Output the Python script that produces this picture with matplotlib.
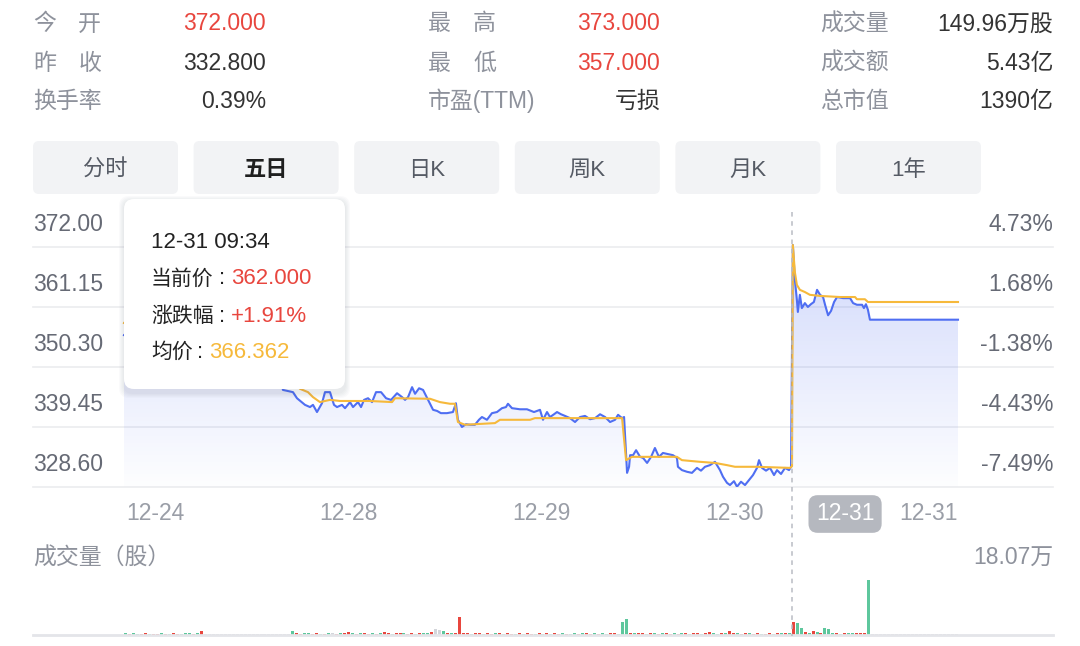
import numpy as np
import matplotlib.pyplot as plt
import matplotlib.transforms as mtransforms
from matplotlib.patches import FancyBboxPatch
from matplotlib.colors import LinearSegmentedColormap

plt.rcParams['font.family'] = ['Liberation Sans', 'Noto Sans CJK SC', 'DejaVu Sans']

# quote header
quote_labels = [["今开", "昨收", "换手率"],
                ["最高", "最低", "市盈(TTM)"],
                ["成交量", "成交额", "总市值"]]
quote_values = [["372.000", "332.800", "0.39%"],
                ["373.000", "357.000", "亏损"],
                ["149.96万股", "5.43亿", "1390亿"]]
quote_red = [[True, False, False],
             [True, True, False],
             [False, False, False]]

tabs = ["分时", "五日", "日K", "周K", "月K", "1年"]
active_tab = "五日"

# five-day intraday price, time in trading days (0 = 12-24 open)
t_price = [0.000, 0.100, 0.200, 0.300, 0.456, 0.900, 0.930, 0.953,
           1.013, 1.037, 1.085, 1.115, 1.133, 1.157, 1.187, 1.205, 1.235, 1.259,
           1.277, 1.307, 1.325, 1.355, 1.373, 1.403, 1.421, 1.439, 1.463, 1.487,
           1.511, 1.541, 1.571, 1.601, 1.637, 1.667, 1.685, 1.703, 1.727, 1.745,
           1.769, 1.793, 1.823, 1.853, 1.877, 1.900, 1.936, 1.972, 1.990,
           2.002, 2.026, 2.050, 2.074, 2.104, 2.128, 2.146, 2.176, 2.206, 2.236,
           2.266, 2.290, 2.302, 2.326, 2.374, 2.416, 2.458, 2.494, 2.512, 2.536,
           2.554, 2.578, 2.596, 2.620, 2.644, 2.674, 2.704, 2.734, 2.764, 2.794,
           2.824, 2.854, 2.884, 2.914, 2.944, 2.962, 2.986, 2.998,
           3.016, 3.028, 3.034, 3.052, 3.070, 3.094, 3.112, 3.136, 3.160, 3.183,
           3.207, 3.231, 3.261, 3.291, 3.315, 3.321, 3.345, 3.375, 3.405, 3.435,
           3.459, 3.483, 3.513, 3.543, 3.573, 3.591, 3.615, 3.633, 3.657, 3.675,
           3.699, 3.723, 3.747, 3.771, 3.795, 3.807, 3.825, 3.849, 3.873, 3.897,
           3.915, 3.939, 3.963, 3.987, 3.999,
           4.010, 4.022, 4.034, 4.040, 4.052, 4.064, 4.082, 4.100, 4.118, 4.136,
           4.155, 4.173, 4.191, 4.203, 4.221, 4.239, 4.257, 4.275, 4.311, 4.353,
           4.371, 4.394, 4.425, 4.436, 4.448, 4.460, 4.472, 5.000]
price = [356.0, 354.6, 353.2, 352.5, 351.8, 351.8, 349.0, 346.1,
         345.7, 344.6, 343.4, 343.0, 343.4, 342.1, 343.7, 345.7, 345.7, 343.4,
         343.0, 343.4, 342.8, 343.9, 343.0, 343.9, 343.0, 344.3, 344.6, 343.9,
         345.7, 345.7, 344.6, 344.3, 345.5, 344.8, 344.3, 344.8, 346.6, 345.4,
         346.4, 346.1, 344.3, 342.5, 342.3, 341.9, 341.9, 342.1, 343.7,
         340.7, 339.4, 339.9, 339.8, 339.8, 340.7, 341.2, 340.7, 341.9, 342.1,
         342.8, 343.0, 343.6, 342.8, 342.6, 342.6, 342.1, 342.5, 340.7, 342.1,
         341.2, 341.7, 342.1, 341.7, 341.4, 341.0, 340.3, 341.2, 341.4, 340.8,
         341.0, 341.7, 341.2, 340.3, 340.7, 341.6, 341.0, 341.2,
         331.1, 332.2, 334.3, 334.3, 335.2, 334.0, 333.8, 332.9, 334.0, 335.6,
         334.0, 334.7, 334.5, 334.3, 333.8, 332.2, 331.6, 331.3, 331.1, 332.0,
         331.5, 332.2, 332.5, 333.1, 331.6, 330.4, 329.3, 328.9, 329.6, 328.6,
         329.5, 328.9, 329.8, 330.7, 332.0, 333.4, 332.0, 331.5, 332.0, 330.7,
         331.6, 330.9, 332.0, 331.6, 332.2,
         372.3, 366.0, 362.4, 360.2, 363.3, 360.9, 361.8, 361.1, 361.6, 362.0,
         364.2, 363.3, 362.9, 361.5, 359.6, 360.4, 362.0, 362.9, 362.7, 362.7,
         361.8, 361.5, 361.5, 360.9, 361.6, 360.6, 358.8, 358.8]

t_avg = [0.000, 0.100, 0.200, 0.300, 0.456, 0.900, 0.950, 1.055,
         1.103, 1.133, 1.175, 1.235, 1.295, 1.475, 1.607, 1.625, 1.835, 1.894,
         1.954, 1.984, 2.002, 2.044, 2.224, 2.254, 2.434, 2.464, 2.986,
         3.010, 3.046, 3.183, 3.315, 3.345, 3.453, 3.543, 3.615, 3.663, 3.795,
         3.993, 4.005, 4.010, 4.022, 4.034, 4.052, 4.082, 4.112, 4.173, 4.293,
         4.383, 4.394, 4.442, 4.460, 5.000]
avg_price = [358.2, 357.0, 355.8, 355.0, 354.6, 354.6, 350.0, 346.3,
             345.7, 344.8, 343.9, 344.3, 344.1, 344.1, 343.9, 344.6, 344.5, 343.9,
             343.6, 343.6, 340.3, 339.8, 340.1, 340.7, 340.7, 341.0, 341.0,
             333.4, 334.0, 334.0, 334.0, 333.4, 333.1, 332.9, 332.5, 332.2, 332.2,
             332.0, 332.3, 372.3, 367.4, 365.1, 364.2, 363.8, 363.3, 363.1, 362.9,
             362.9, 362.5, 362.5, 362.0, 362.0]

price_ticks = [372.00, 361.15, 350.30, 339.45, 328.60]
pct_ticks = ["4.73%", "1.68%", "-1.38%", "-4.43%", "-7.49%"]
date_labels = ["12-24", "12-28", "12-29", "12-30", "12-31"]
date_pos = [0.186, 1.343, 2.500, 3.663, 4.826]

cursor_t = 4.005
cursor_date = "12-31"
cursor_date_pos = 4.323
tip_time = "12-31 09:34"
tip_price = "362.000"
tip_change = "+1.91%"
tip_avg = "366.362"

# volume (万股), 42 buckets per day; r = up, g = down, n = flat
vol_1224 = [0.6, 0.4, 0.5, 0.3, 0.4, 0.5, 0.3, 0.4, 0.3, 0.5,
            0.4, 0.3, 0.6, 0.4, 0.3, 0.5, 0.6, 0.4, 0.5, 1.3,
            0.25, 0.25, 0.25, 0.25, 0.25, 0.25, 0.25, 0.25, 0.25, 0.25,
            0.25, 0.25, 0.25, 0.25, 0.25, 0.25, 0.25, 0.25, 0.25, 0.25,
            0.25, 0.25]
col_1224 = "grggrrgrrg" "rgrrgggrgr" "nnnnnnnnnn" "nnnnnnnnnn" "nn"
vol_1228 = [1.3, 0.5, 0.4, 0.5, 0.6, 0.4, 0.5, 0.3, 0.4, 0.5,
            0.7, 0.4, 0.5, 0.6, 0.9, 0.5, 0.4, 0.5, 0.6, 0.4,
            0.5, 0.4, 0.6, 0.9, 0.5, 0.4, 0.5, 0.6, 0.5, 0.4,
            0.5, 0.4, 0.6, 0.5, 0.7, 0.9, 2.1, 1.6, 1.2, 0.6,
            0.8, 0.5]
col_1228 = "grrggrrgrg" "nrgrrgrgrr" "grgrrgrrgr" "rgrggrnngr" "gr"
vol_1229 = [5.9, 0.6, 0.5, 0.4, 0.6, 0.5, 0.4, 0.5, 0.4, 0.6,
            0.5, 0.4, 0.5, 0.4, 0.3, 0.5, 0.4, 0.5, 0.4, 0.3,
            0.5, 0.4, 0.5, 0.4, 0.6, 0.4, 0.5, 0.4, 0.3, 0.5,
            0.4, 0.6, 0.5, 0.4, 0.5, 0.4, 0.5, 0.4, 0.6, 0.5,
            0.4, 4.3]
col_1229 = "rrrgrrgrrg" "rgrrgrgrrg" "rgrgrrgrgg" "rgrrgrggrr" "gg"
vol_1230 = [5.3, 0.7, 0.5, 0.6, 0.5, 0.4, 0.6, 0.5, 0.4, 0.5,
            0.6, 0.4, 0.5, 0.4, 0.6, 0.5, 0.4, 0.5, 0.6, 0.4,
            0.5, 1.1, 0.5, 0.4, 0.6, 0.5, 1.3, 0.6, 0.5, 0.4,
            0.5, 0.6, 0.4, 0.5, 0.4, 0.3, 0.5, 0.4, 0.6, 0.5,
            0.8, 0.6]
col_1230 = "grgrrgrgrg" "rrgrgrgrrg" "rrggrgrrgr" "rgrrgrrgrg" "rg"
vol_1231 = [4.3, 4.0, 2.4, 1.0, 0.7, 1.2, 0.9, 0.8, 2.3, 2.0,
            0.6, 0.6, 0.4, 0.5, 0.5, 0.7, 0.5, 0.6, 0.5, 18.07,
            0.25, 0.25, 0.25, 0.25, 0.25, 0.25, 0.25, 0.25, 0.25, 0.25,
            0.25, 0.25, 0.25, 0.25, 0.25, 0.25, 0.25, 0.25, 0.25, 0.25,
            0.25, 0.25]
col_1231 = "rggrgrgrgg" "grgrggrrrg" "nnnnnnnnnn" "nnnnnnnnnn" "nn"
vol_max = 18.07
vol_max_label = "18.07万"

BLUE = '#4f6ef2'
GOLD = '#f6b93b'
RED = '#e8463e'
GREEN = '#5ec79d'
LABEL = '#8e929c'
DARK = '#2b2b2b'
AXTXT = '#666a75'

W, H = 1080, 646
fig = plt.figure(figsize=(10.8, 6.46), dpi=100)


def px_axes(x0, y0, x1, y1):
    a = fig.add_axes([x0 / W, 1 - y1 / H, (x1 - x0) / W, (y1 - y0) / H])
    a.set_axis_off()
    return a


# day 0 open sits at x=124px, 166.8 px per trading day
day_px = 166.8
xlim = (-(124 - 33) / day_px, 5 + (1053 - 958) / day_px)
unit_px = 60 / 10.85

# price panel
ax = px_axes(33, 205, 1053, 486.7)
fill = ax.fill_between(t_price, price, price_ticks[-1], color='none', lw=0)
grad = np.linspace(0, 1, 256).reshape(-1, 1)
fade = LinearSegmentedColormap.from_list('fade', [(0.31, 0.43, 0.95, 0.01),
                                                  (0.31, 0.43, 0.95, 0.26)])
im = ax.imshow(grad, extent=[t_price[0], t_price[-1], price_ticks[-1], max(price)],
               aspect='auto', origin='lower', cmap=fade, zorder=1)
im.set_clip_path(fill.get_paths()[0], transform=ax.transData)
for p in price_ticks:
    ax.axhline(p, color='#ebecef', lw=1.2, zorder=0, clip_on=False)
ax.plot(t_price, price, color=BLUE, lw=1.5, zorder=3)
ax.plot(t_avg, avg_price, color=GOLD, lw=1.5, zorder=4)
ax.set_xlim(*xlim)
ax.set_ylim(price_ticks[-1], price_ticks[0] + (246.7 - 205) / unit_px)

lab_tr = mtransforms.offset_copy(
    mtransforms.blended_transform_factory(ax.transAxes, ax.transData),
    fig=fig, y=22, units='dots')
for p, pc in zip(price_ticks, pct_ticks):
    ax.text(0, p, f"{p:.2f}", transform=lab_tr, ha='left', va='center',
            fontsize=16.5, color=AXTXT)
    ax.text(1, p, pc, transform=lab_tr, ha='right', va='center',
            fontsize=16.5, color=AXTXT)

# volume panel
vx = px_axes(33, 580, 1053, 635)
vols = [vol_1224, vol_1228, vol_1229, vol_1230, vol_1231]
cols = [col_1224, col_1228, col_1229, col_1230, col_1231]
cmap_v = {'r': RED, 'g': GREEN, 'n': '#d3d5da'}
for d, (v, c) in enumerate(zip(vols, cols)):
    assert len(v) == len(c) == 42
    xs = d + (np.arange(len(v)) + 0.5) / len(v)
    vx.bar(xs, v, width=0.75 / len(v), color=[cmap_v[k] for k in c], lw=0)
vx.axhline(0, color='#e4e5e9', lw=2, clip_on=False)
vx.set_xlim(*xlim)
vx.set_ylim(0, vol_max)

# overlay in pixel coordinates
ov = fig.add_axes([0, 0, 1, 1])
ov.set_xlim(0, W)
ov.set_ylim(H, 0)
ov.set_axis_off()


def put(x, y, s, color=DARK, ha='left', size=16.5, weight='normal', tr=None):
    # matplotlib centres on the full line box; nudge down to sit like the UI text
    ov.text(x, y + 2, s, color=color, ha=ha, va='center', fontsize=size,
            fontweight=weight, transform=tr if tr is not None else ov.transData)


col_x = [33, 428, 820]
col_right = [266, 660, 1053]
row_y = [22, 61, 99]
for c in range(3):
    for r in range(3):
        lab = quote_labels[c][r]
        if len(lab) == 2:
            put(col_x[c], row_y[r], lab[0], LABEL)
            put(col_x[c] + 68, row_y[r], lab[1], LABEL, ha='right')
        else:
            put(col_x[c], row_y[r], lab, LABEL)
        put(col_right[c], row_y[r], quote_values[c][r],
            RED if quote_red[c][r] else '#333333', ha='right')

for i, name in enumerate(tabs):
    x0 = 33 + i * 160.6
    ov.add_patch(FancyBboxPatch((x0 + 6, 147), 133, 41,
                                boxstyle='round,pad=6', fc='#f2f3f5', ec='none'))
    on = name == active_tab
    put(x0 + 72.5, 168, name, '#1f1f1f' if on else '#555a64', ha='center',
        size=16, weight='bold' if on else 'normal')

# x date labels
xt = mtransforms.blended_transform_factory(ax.transData, ov.transData)
for d, s in zip(date_pos, date_labels):
    put(d, 512, s, '#9a9ea7', ha='center', tr=xt)
ov.text(cursor_date_pos, 514, cursor_date, transform=xt, ha='center', va='center',
        fontsize=16.5, color='white',
        bbox=dict(boxstyle='round,pad=0.32,rounding_size=0.4', fc='#b5b8bf', ec='none'))
ov.plot([cursor_t, cursor_t], [212, 636], transform=xt, color='#b9bcc3',
        lw=1.1, ls=(0, (3, 3)))

# volume captions
put(33, 556, "成交量（股）", LABEL)
put(1053, 556, vol_max_label, LABEL, ha='right')

# tooltip
for k in range(5, 0, -1):
    ov.add_patch(FancyBboxPatch((134 - k, 211 - k), 201 + 2 * k, 172 + 2 * k,
                                boxstyle='round,pad=10', fc='#4a5070',
                                ec='none', alpha=0.025))
ov.add_patch(FancyBboxPatch((134, 209), 201, 170, boxstyle='round,pad=10',
                            fc='white', ec='none'))
put(151, 240, tip_time, '#222222', size=16)
put(151, 277, "当前价", '#222222', size=15)
put(222, 277, ":", '#222222', ha='center', size=16)
put(231, 277, tip_price, RED, size=16)
put(151, 314, "涨跌幅", '#222222', size=15)
put(222, 314, ":", '#222222', ha='center', size=16)
put(231, 314, tip_change, RED, size=16)
put(151, 350, "均价", '#222222', size=15)
put(200, 350, ":", '#222222', ha='center', size=16)
put(209, 350, tip_avg, GOLD, size=16)

fig.savefig('out.png', dpi=100, facecolor='white')
